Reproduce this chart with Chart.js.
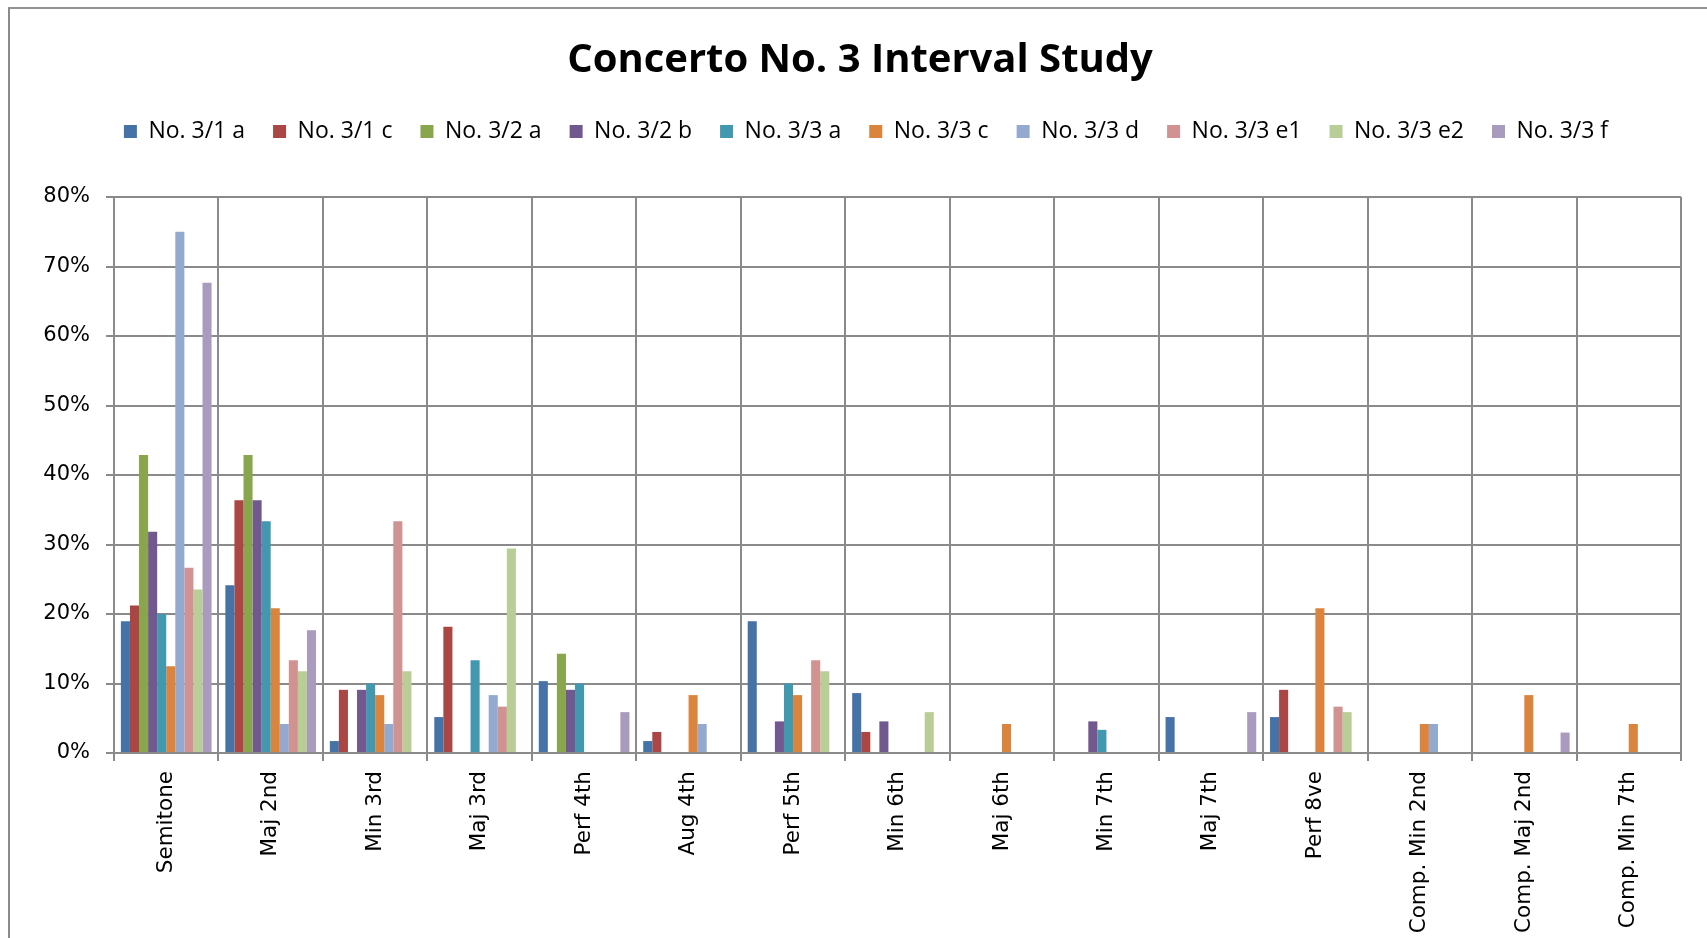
<!DOCTYPE html>
<html>
<head>
<meta charset="utf-8">
<title>Concerto No. 3 Interval Study</title>
<script src="https://cdn.jsdelivr.net/npm/chart.js@4.4.1/dist/chart.umd.min.js"></script>
<style>
  html, body { margin: 0; padding: 0; background: #fff; overflow: hidden; width: 1707px; height: 938px; }
  #frame { position: absolute; left: 8px; top: 7px; width: 1800px; height: 1000px;
           border-left: 2px solid #8a8a8a; border-top: 2px solid #929292; box-sizing: border-box; }
  #wrap { position: absolute; left: 0; top: 0; width: 1720px; height: 960px; }
  canvas { display: block; }
</style>
</head>
<body>
<div id="frame"></div>
<div id="wrap"><canvas id="chart" width="1720" height="960"></canvas></div>
<script>
// Interval categories along the x axis
const categories = ['Semitone', 'Maj 2nd', 'Min 3rd', 'Maj 3rd', 'Perf 4th', 'Aug 4th', 'Perf 5th',
  'Min 6th', 'Maj 6th', 'Min 7th', 'Maj 7th', 'Perf 8ve', 'Comp. Min 2nd', 'Comp. Maj 2nd', 'Comp. Min 7th'];

// Share of each interval per movement section (percent)
const no31a  = [18.97, 24.14, 1.72, 5.17, 10.34, 1.72, 18.97, 8.62, 0, 0, 5.17, 5.17, 0, 0, 0];
const no31c  = [21.21, 36.36, 9.09, 18.18, 0, 3.03, 0, 3.03, 0, 0, 0, 9.09, 0, 0, 0];
const no32a  = [42.86, 42.86, 0, 0, 14.29, 0, 0, 0, 0, 0, 0, 0, 0, 0, 0];
const no32b  = [31.82, 36.36, 9.09, 0, 9.09, 0, 4.55, 4.55, 0, 4.55, 0, 0, 0, 0, 0];
const no33a  = [20.00, 33.33, 10.00, 13.33, 10.00, 0, 10.00, 0, 0, 3.33, 0, 0, 0, 0, 0];
const no33c  = [12.50, 20.83, 8.33, 0, 0, 8.33, 8.33, 0, 4.17, 0, 0, 20.83, 4.17, 8.33, 4.17];
const no33d  = [75.00, 4.17, 4.17, 8.33, 0, 4.17, 0, 0, 0, 0, 0, 0, 4.17, 0, 0];
const no33e1 = [26.67, 13.33, 33.33, 6.67, 0, 0, 13.33, 0, 0, 0, 0, 6.67, 0, 0, 0];
const no33e2 = [23.53, 11.76, 11.76, 29.41, 0, 0, 11.76, 5.88, 0, 0, 0, 5.88, 0, 0, 0];
const no33f  = [67.65, 17.65, 0, 0, 5.88, 0, 0, 0, 0, 0, 5.88, 0, 0, 2.94, 0];

const seriesNames = ['No. 3/1 a', 'No. 3/1 c', 'No. 3/2 a', 'No. 3/2 b', 'No. 3/3 a',
  'No. 3/3 c', 'No. 3/3 d', 'No. 3/3 e1', 'No. 3/3 e2', 'No. 3/3 f'];
const seriesValues = [no31a, no31c, no32a, no32b, no33a, no33c, no33d, no33e1, no33e2, no33f];
const seriesColors = ['#4572A7', '#AA4643', '#89A54E', '#71588F', '#4198AF',
  '#DB843D', '#93A9CF', '#D19392', '#B9CD96', '#A99BBD'];

// Y axis range and tick step (percent)
const yMin = 0, yMax = 80, yStep = 10;

const gridColor = '#8a8a8a';

const datasets = seriesNames.map((name, i) => ({
  label: name,
  data: seriesValues[i],
  backgroundColor: seriesColors[i],
  borderWidth: 0,
  categoryPercentage: 0.868,
  barPercentage: 1.0,
  xAxisID: 'x',
  yAxisID: 'y'
}));

// Nudges the legend row a little to the right of the title's centre line
const legendNudge = {
  id: 'legendNudge',
  afterLayout(chart) {
    const lg = chart.legend;
    if (lg) { lg.left += 6; lg.right += 6; }
  }
};

Chart.defaults.color = '#000';

new Chart(document.getElementById('chart'), {
  type: 'bar',
  data: { labels: categories, datasets },
  plugins: [legendNudge],
  options: {
    responsive: false,
    animation: false,
    layout: { padding: { top: 0, left: 0, right: 0, bottom: 0 } },
    plugins: {
      title: {
        display: true,
        text: 'Concerto No. 3 Interval Study',
        color: '#000',
        font: { family: 'Open Sans', size: 40, weight: 'bold', lineHeight: 1.2 },
        padding: { top: 37, bottom: 7 }
      },
      legend: {
        display: true,
        position: 'top',
        labels: {
          color: '#000',
          font: { family: 'Open Sans', size: 23 },
          boxWidth: 13,
          boxHeight: 13,
          padding: 28
        }
      },
      tooltip: { enabled: false }
    },
    scales: {
      x: {
        type: 'category',
        position: 'bottom',
        offset: true,
        grid: { display: true, offset: true, color: gridColor, lineWidth: 2, tickLength: 8, drawTicks: true },
        border: { display: true, color: gridColor, width: 2 },
        ticks: { font: { family: 'DejaVu Sans', size: 21.5, lineHeight: 1 }, color: '#000',
                 minRotation: 90, maxRotation: 90, autoSkip: false, padding: 10 },
        afterFit: s => { s.height = 207; }
      },
      xTop: {
        type: 'category',
        position: 'top',
        display: true,
        grid: { display: false, drawTicks: false },
        border: { display: false },
        ticks: { display: false },
        afterFit: s => { s.height = 44; }
      },
      y: {
        type: 'linear',
        position: 'left',
        min: yMin,
        max: yMax,
        grid: { color: gridColor, lineWidth: 2, tickLength: 8, drawTicks: true },
        border: { display: true, color: gridColor, width: 2 },
        ticks: { stepSize: yStep, font: { family: 'DejaVu Sans', size: 21 }, color: '#000', padding: 16,
                 callback: v => v + '%' },
        afterFit: s => { s.width = 114; }
      },
      yRight: {
        type: 'linear',
        position: 'right',
        display: true,
        min: yMin,
        max: yMax,
        grid: { display: false, drawTicks: false },
        border: { display: false },
        ticks: { display: false },
        afterFit: s => { s.width = 39; }
      }
    }
  }
});
</script>
</body>
</html>
